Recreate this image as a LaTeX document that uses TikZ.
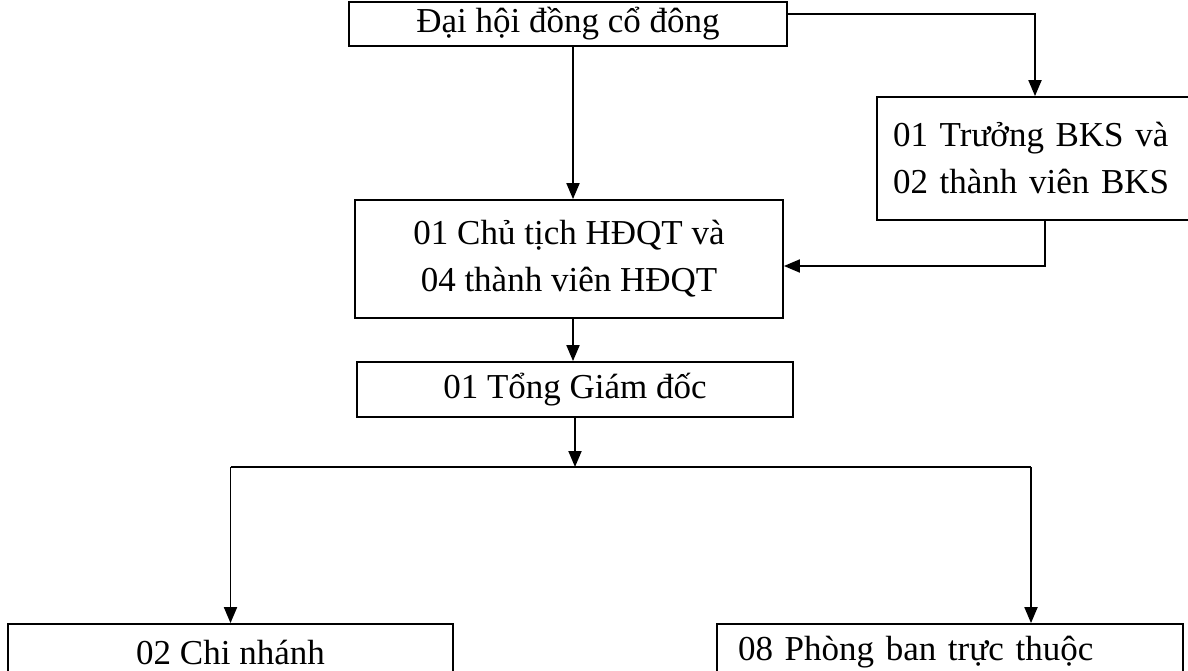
\documentclass[tikz,border=0pt]{standalone}
\usepackage{fontspec}
\setmainfont{Liberation Serif}
\usetikzlibrary{arrows.meta}
\begin{document}
\begin{tikzpicture}[x=1pt,y=-1pt,
  box/.style={draw, line width=1.8pt, inner sep=0pt, font=\fontsize{35}{47}\selectfont},
  conn/.style={line width=1.9pt},
  arr/.style={conn, -{Triangle[length=16pt,width=13pt]}}]
\useasboundingbox (0,0) rectangle (1188,671);
\clip (0,0) rectangle (1188,671);
\node[box, minimum width=438pt, minimum height=44pt] (b1) at (568,24) {Đại hội đồng cổ đông};
\node[box, minimum width=333pt, minimum height=123pt, text width=301pt, align=left, inner xsep=16pt] (bks) at (1043.5,158.5) {01 Trưởng BKS và\\02 thành viên BKS};
\node[box, minimum width=428pt, minimum height=118pt, align=center] (hdqt) at (569,259) {01 Chủ tịch HĐQT và\\04 thành viên HĐQT};
\node[box, minimum width=436pt, minimum height=55pt] (tgd) at (575,389.5) {01 Tổng Giám đốc};
\node[box, minimum width=445pt, minimum height=56pt] (cn) at (230.5,652) {02 Chi nhánh};
\node[box, minimum width=466pt, minimum height=56pt, text width=424pt, align=left, inner xsep=21pt] (pb) at (950,652) {08 Phòng ban trực thuộc};
\coordinate (b1out) at ([yshift=10pt]b1.east);
\coordinate (bksin) at ([xshift=-8.5pt]bks.north);
\coordinate (bksout) at ([xshift=1.5pt]bks.south);
\coordinate (hdqtin) at ([yshift=-7pt]hdqt.east);
\coordinate (b1down) at ([xshift=5pt]b1.south);
\coordinate (hdqtdown) at ([xshift=4pt]hdqt.south);
\coordinate (br) at (575,467);
\coordinate (pbin) at ([xshift=81pt]pb.north);
\draw[arr] (b1out) -| (bksin);
\draw[arr] (bksout) |- (hdqtin);
\draw[arr] (b1down) -- (b1down |- hdqt.north);
\draw[arr] (hdqtdown) -- (hdqtdown |- tgd.north);
\draw[arr] (tgd.south) -- (br);
\draw[conn] (cn.north |- br) -- (pbin |- br);
\draw[arr] (cn.north |- br) -- (cn.north);
\draw[arr] (pbin |- br) -- (pbin);
\end{tikzpicture}
\end{document}
